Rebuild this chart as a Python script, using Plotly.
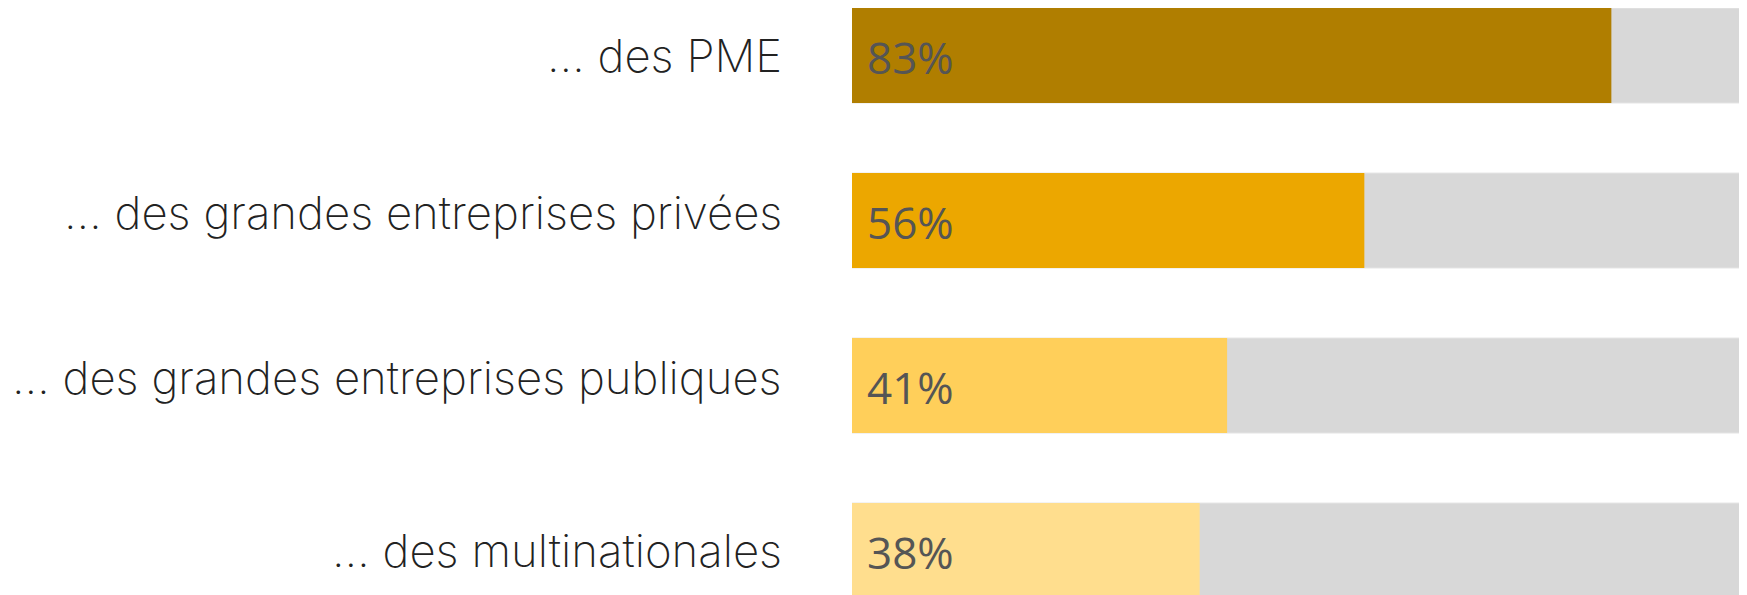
import plotly.graph_objects as go

# data
categories = ["… des PME", "… des grandes entreprises privées",
              "… des grandes entreprises publiques", "… des multinationales"]
values = [83, 56, 41, 38]
value_labels = ["83%", "56%", "41%", "38%"]
bar_colors = ["#b07e00", "#eca700", "#ffcf5a", "#ffde8e"]
total = [100, 100, 100, 100]

fig = go.Figure()

# grey background bars (100%)
fig.add_trace(go.Bar(
    y=categories, x=total, orientation="h",
    marker=dict(color="#d8d8d8", line=dict(color="#e6e6e6", width=1)),
    width=0.576, hoverinfo="skip", showlegend=False,
))

# coloured bars
fig.add_trace(go.Bar(
    y=categories, x=values, orientation="h",
    marker=dict(color=bar_colors, line=dict(width=0)),
    width=0.576, showlegend=False,
))

for cat, lab in zip(categories, value_labels):
    fig.add_annotation(
        x=0, y=cat, text=lab, showarrow=False,
        xanchor="left", yanchor="middle", xshift=13, yshift=-1,
        font=dict(family="Open Sans", size=44, color="#555555"),
    )

# category labels, centred on their ink box like the original (descenders lift the text)
for cat in categories:
    has_desc = any(c in "gjpqy" for c in cat)
    fig.add_annotation(
        xref="paper", x=0, y=cat, text=cat, showarrow=False,
        xanchor="right", yanchor="middle", xshift=-68, yshift=8 if has_desc else 0,
        font=dict(family="Inter", size=45.5, color="#222222", weight=200),
    )

fig.update_layout(
    width=1747, height=595,
    margin=dict(l=844, r=0, t=0, b=0),
    barmode="overlay",
    paper_bgcolor="white", plot_bgcolor="white",
    xaxis=dict(range=[0, 98.7], visible=False, fixedrange=True),
    yaxis=dict(range=[3.318, -0.288], visible=False, fixedrange=True),
)

fig.write_html("out.html")
